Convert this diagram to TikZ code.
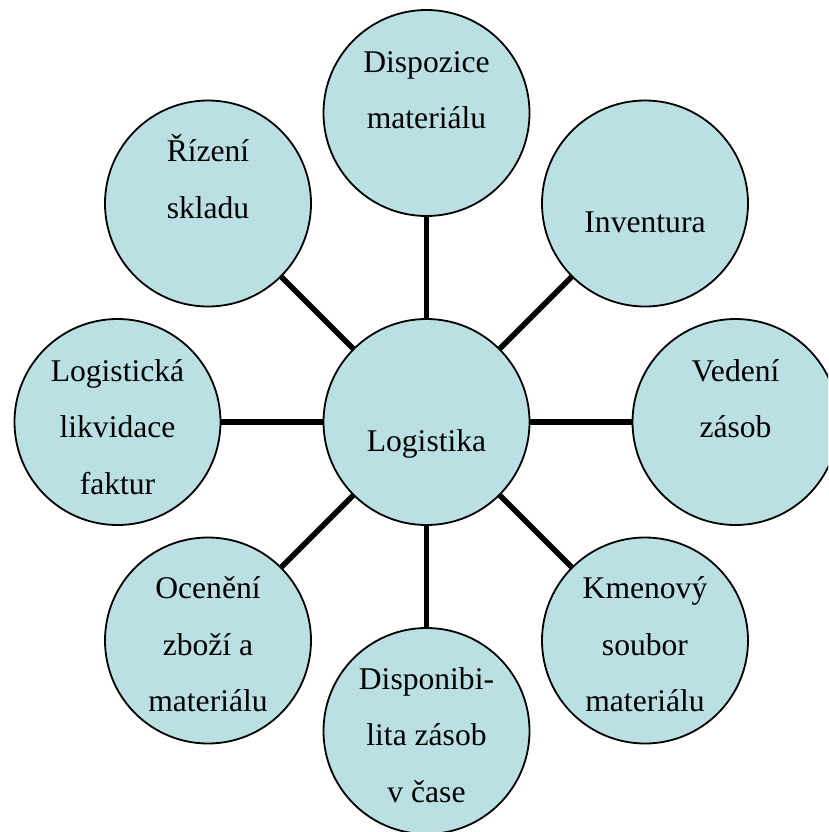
\documentclass[tikz,border=0pt]{standalone}
\usepackage{fontspec}
\setmainfont{Liberation Serif}
\usetikzlibrary{backgrounds}
\definecolor{bubblefill}{RGB}{186,224,227}
\begin{document}
\begin{tikzpicture}[x=1pt,y=-1pt,
  bubble/.style={circle,draw=black,line width=1.8pt,fill=bubblefill,minimum size=206pt,inner sep=0pt},
  % base anchor of a multi-line text sits on its last line
  txt/.style={font=\fontsize{31.6}{56.5}\selectfont,align=center,anchor=base,inner sep=0pt},
  link/.style={line width=5.5pt}]
\useasboundingbox (0,0) rectangle (828,832);
\clip (0,0) rectangle (828,832);

% circles
\node[bubble] (c)  at (426.5,422) {};
\node[bubble] (n)  at (426.5,113) {};
\node[bubble] (ne) at (645,203.5) {};
\node[bubble] (e)  at (735.5,422) {};
\node[bubble] (se) at (645,640.5) {};
\node[bubble] (s)  at (426.5,731) {};
\node[bubble] (sw) at (208,640.5) {};
\node[bubble] (w)  at (117.5,422) {};
\node[bubble] (nw) at (208,203.5) {};

% spokes from the hub
\begin{scope}[on background layer]
  \foreach \t in {n,ne,e,se,s,sw,w,nw}
    \draw[link] (c) -- (\t);
\end{scope}

% texts
\node[txt] (tc)  at (426.5,451) {Logistika};
\node[txt] (tn)  at (426.5,128.5) {Dispozice\\materiálu};
\node[txt] (tne) at (645,232.5) {Inventura};
\node[txt] (te)  at (735.5,437.5) {Vedení\\zásob};
\node[txt] (tse) at (645,711.5) {Kmenový\\soubor\\materiálu};
\node[txt] (ts)  at (426.5,802) {Disponibi-\\lita zásob\\v čase};
\node[txt] (tsw) at (208,711.5) {Ocenění\\zboží a\\materiálu};
\node[txt] (tw)  at (117.5,494) {Logistická\\likvidace\\faktur};
\node[txt] (tnw) at (208,218) {Řízení\\skladu};
\end{tikzpicture}
\end{document}
